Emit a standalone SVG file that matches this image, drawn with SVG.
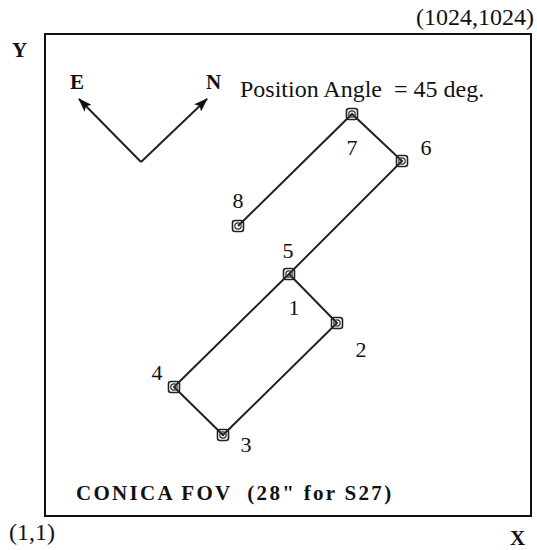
<svg xmlns="http://www.w3.org/2000/svg" width="537" height="550" viewBox="0 0 537 550">
<style>
  text { font-family: "Liberation Serif", "Times New Roman", serif; fill: #111; }
  .b { font-weight: bold; }
  .lbl { font-size: 22px; }
  .edge { stroke: #222; stroke-width: 2; fill: none; }
  .mk rect { fill: none; stroke: #222; stroke-width: 1.6; }
  .mk circle { fill: none; stroke: #333; stroke-width: 1.2; }
</style>
<defs>
  <marker id="ah" viewBox="0 0 14 10" refX="13" refY="5" markerWidth="14" markerHeight="10" markerUnits="userSpaceOnUse" orient="auto">
    <path d="M0,0 L14,5 L0,10 L3,5 Z" fill="#111"/>
  </marker>
  <g id="pt" class="mk"><rect x="-5.5" y="-5.5" width="11" height="11" rx="2.5"/><circle r="3.2"/></g>
</defs>
<rect x="45" y="34" width="486" height="482" fill="none" stroke="#111" stroke-width="2"/>
<text x="534" y="25" font-size="24" text-anchor="end">(1024,1024)</text>
<text x="12" y="57" font-size="21" class="b">Y</text>
<text x="9" y="540" font-size="24">(1,1)</text>
<text x="510" y="545" font-size="21" class="b">X</text>
<g id="compass">
  <line class="edge" x1="141" y1="162" x2="79" y2="99" marker-end="url(#ah)"/>
  <line class="edge" x1="141" y1="162" x2="207" y2="99" marker-end="url(#ah)"/>
  <text x="70" y="89" font-size="21" class="b">E</text>
  <text x="206" y="89" font-size="21" class="b">N</text>
</g>
<text x="240" y="97" font-size="24" xml:space="preserve">Position Angle  = 45 deg.</text>
<text x="76" y="500" font-size="21" class="b" letter-spacing="2.3" xml:space="preserve">CONICA FOV  (28" for S27)</text>
<g id="connectors">
  <polyline class="edge" points="289,274 337,323 223,435 174,387 289,274 402,161 352,114 238,226"/>
</g>
<g id="p1"><use href="#pt" x="289" y="274"/><text class="lbl" x="294" y="315" text-anchor="middle">1</text></g>
<g id="p5"><text class="lbl" x="288" y="258" text-anchor="middle">5</text></g>
<g id="p2"><use href="#pt" x="337" y="323"/><text class="lbl" x="361" y="357" text-anchor="middle">2</text></g>
<g id="p3"><use href="#pt" x="223" y="435"/><text class="lbl" x="246" y="452" text-anchor="middle">3</text></g>
<g id="p4"><use href="#pt" x="174" y="387"/><text class="lbl" x="157" y="380" text-anchor="middle">4</text></g>
<g id="p6"><use href="#pt" x="402" y="161"/><text class="lbl" x="426" y="155" text-anchor="middle">6</text></g>
<g id="p7"><use href="#pt" x="352" y="114"/><text class="lbl" x="352" y="155" text-anchor="middle">7</text></g>
<g id="p8"><use href="#pt" x="238" y="226"/><text class="lbl" x="238" y="208" text-anchor="middle">8</text></g>
</svg>
